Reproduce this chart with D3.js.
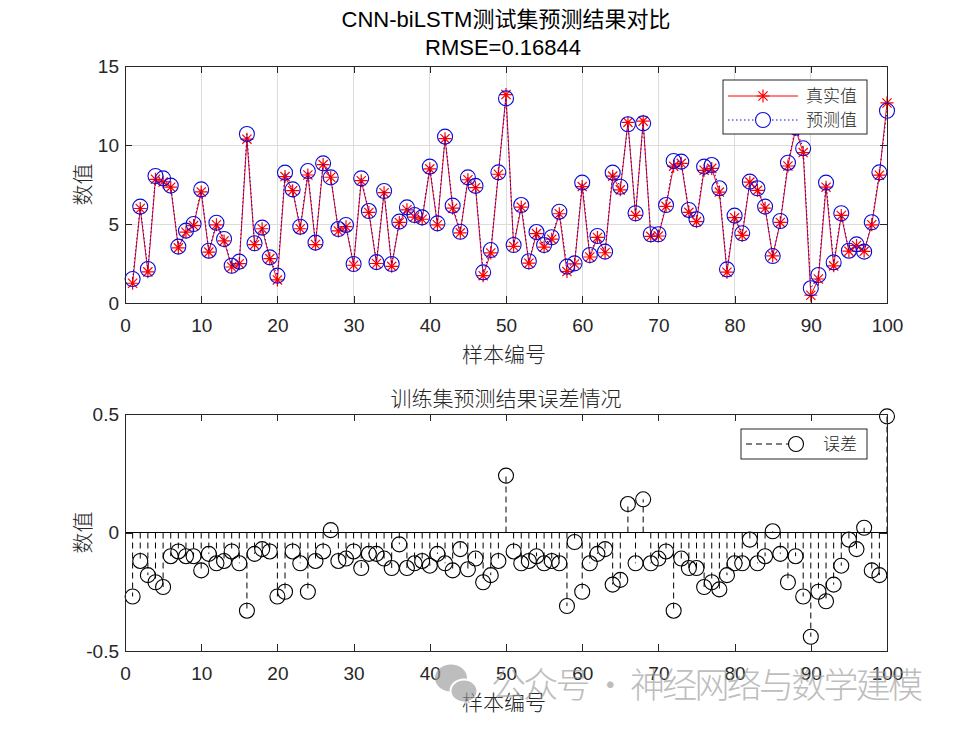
<!DOCTYPE html>
<html lang="zh">

<head>
    <meta charset="UTF-8">
    <title>CNN-biLSTM测试集预测结果对比</title>
    <style>
        body {
            margin: 0;
            background: #fff;
        }

        svg {
            display: block;
        }

        .axis text {
            font: 19px "Liberation Sans", Arial, sans-serif;
            fill: #262626;
        }

        .axis path,
        .axis line {
            fill: none;
            stroke: #262626;
            stroke-width: 1;
            shape-rendering: crispEdges;
        }

        .grid line {
            stroke: #dcdcdc;
            shape-rendering: crispEdges;
        }

        .cjk {
            font-family: "Noto Sans CJK SC", sans-serif;
            font-weight: 300;
            fill: #262626;
        }
    </style>
</head>

<body>
    <svg width="980" height="735"></svg>

    <script src="https://d3js.org/d3.v7.min.js"></script>
    <script>
        // sample numbers 1..100
        const samples = d3.range(1, 101);

        // true values (red stars)
        const actual = [
            1.25, 5.98, 1.97, 7.83, 7.66, 7.33, 3.49, 4.48, 4.90, 7.03,
            3.22, 4.95, 3.93, 2.28, 2.49, 10.37, 3.69, 4.70, 2.81, 1.46,
            8.00, 7.11, 4.70, 8.10, 3.70, 8.76, 7.96, 4.56, 4.83, 2.39,
            7.74, 5.73, 2.50, 6.98, 2.32, 5.10, 5.90, 5.44, 5.30, 8.49,
            4.95, 10.40, 6.00, 4.44, 7.80, 7.30, 1.73, 3.17, 8.15, 13.19,
            3.59, 6.07, 2.52, 4.39, 3.54, 4.04, 5.65, 1.99, 2.47, 7.37,
            2.91, 4.15, 3.18, 8.03, 7.16, 11.43, 5.55, 11.51, 4.22, 4.24,
            6.12, 8.66, 8.84, 5.74, 5.15, 8.40, 8.52, 7.02, 1.95, 5.40,
            4.28, 7.65, 7.13, 6.00, 2.98, 5.10, 8.67, 11.00, 9.52, 0.49,
            1.52, 7.33, 2.35, 5.54, 3.28, 3.64, 3.27, 4.95, 8.09, 12.66
        ];

        // predicted values (blue circles)
        const predicted = [
            1.52, 6.10, 2.15, 8.04, 7.89, 7.43, 3.57, 4.58, 5.00, 7.19,
            3.31, 5.08, 4.05, 2.36, 2.62, 10.70, 3.78, 4.77, 2.89, 1.73,
            8.25, 7.19, 4.83, 8.35, 3.82, 8.84, 7.95, 4.68, 4.94, 2.47,
            7.89, 5.82, 2.59, 7.09, 2.47, 5.15, 6.05, 5.57, 5.42, 8.63,
            5.04, 10.53, 6.16, 4.51, 7.95, 7.41, 1.94, 3.35, 8.27, 12.95,
            3.67, 6.20, 2.64, 4.49, 3.67, 4.16, 5.78, 2.30, 2.51, 7.62,
            3.04, 4.24, 3.25, 8.25, 7.36, 11.31, 5.68, 11.37, 4.35, 4.35,
            6.20, 8.99, 8.95, 5.89, 5.30, 8.63, 8.73, 7.26, 2.13, 5.53,
            4.41, 7.68, 7.26, 6.10, 2.97, 5.19, 8.88, 11.10, 9.79, 0.93,
            1.77, 7.62, 2.57, 5.68, 3.31, 3.71, 3.25, 5.11, 8.27, 12.17
        ];

        // errors (bottom stem plot)
        const errors = [
            -0.27, -0.12, -0.18, -0.21, -0.23, -0.10, -0.08, -0.10, -0.10, -0.16,
            -0.09, -0.13, -0.12, -0.08, -0.13, -0.33, -0.09, -0.07, -0.08, -0.27,
            -0.25, -0.08, -0.13, -0.25, -0.12, -0.08, 0.01, -0.12, -0.11, -0.08,
            -0.15, -0.09, -0.09, -0.11, -0.15, -0.05, -0.15, -0.13, -0.12, -0.14,
            -0.09, -0.13, -0.16, -0.07, -0.155, -0.11, -0.21, -0.18, -0.12, 0.24,
            -0.08, -0.13, -0.12, -0.10, -0.13, -0.12, -0.13, -0.31, -0.04, -0.25,
            -0.13, -0.09, -0.07, -0.22, -0.20, 0.12, -0.13, 0.14, -0.13, -0.11,
            -0.08, -0.33, -0.11, -0.15, -0.15, -0.23, -0.21, -0.24, -0.18, -0.13,
            -0.13, -0.03, -0.13, -0.10, 0.005, -0.09, -0.21, -0.10, -0.27, -0.44,
            -0.25, -0.29, -0.22, -0.14, -0.03, -0.07, 0.02, -0.16, -0.18, 0.49
        ];

        const xTicks = [0, 10, 20, 30, 40, 50, 60, 70, 80, 90, 100];
        const yTopTicks = [0, 5, 10, 15];
        const yBotTicks = [-0.5, 0, 0.5];

        const svg = d3.select("svg");

        const x = d3.scaleLinear().domain([0, 100]).range([125, 887]);
        const yTop = d3.scaleLinear().domain([0, 15]).range([303, 66]);
        const yBot = d3.scaleLinear().domain([-0.5, 0.5]).range([651, 414]);

        const starPath = "M-6.5,0H6.5M0,-6.5V6.5M-4.6,-4.6L4.6,4.6M-4.6,4.6L4.6,-4.6";

        // draws the box with inward ticks on all four sides
        function drawFrame(y, yTicks, yFormat) {
            const [y0, y1] = y.range();
            svg.append("g")
                .attr("class", "axis")
                .attr("transform", `translate(0,${y0})`)
                .call(d3.axisBottom(x).tickValues(xTicks).tickSize(-7).tickSizeOuter(0).tickPadding(16));
            svg.append("g")
                .attr("class", "axis")
                .attr("transform", `translate(0,${y1})`)
                .call(d3.axisTop(x).tickValues(xTicks).tickSize(-7).tickSizeOuter(0).tickFormat(""));
            svg.append("g")
                .attr("class", "axis")
                .attr("transform", `translate(${x.range()[0]},0)`)
                .call(d3.axisLeft(y).tickValues(yTicks).tickSize(-7).tickSizeOuter(0).tickPadding(6).tickFormat(yFormat));
            svg.append("g")
                .attr("class", "axis")
                .attr("transform", `translate(${x.range()[1]},0)`)
                .call(d3.axisRight(y).tickValues(yTicks).tickSize(-7).tickSizeOuter(0).tickFormat(""));
        }

        // ---------- top chart ----------
        const grid = svg.append("g").attr("class", "grid");
        grid.selectAll(".gx")
            .data(xTicks.slice(1, -1))
            .enter().append("line")
            .attr("x1", d => x(d)).attr("x2", d => x(d))
            .attr("y1", yTop(0)).attr("y2", yTop(15));
        grid.selectAll(".gy")
            .data(yTopTicks.slice(1, -1))
            .enter().append("line")
            .attr("x1", x(0)).attr("x2", x(100))
            .attr("y1", d => yTop(d)).attr("y2", d => yTop(d));

        const line = d3.line().x((d, i) => x(samples[i]));

        svg.append("path")
            .datum(actual)
            .attr("fill", "none")
            .attr("stroke", "#ff0000")
            .attr("stroke-width", 1)
            .attr("d", line.y(d => yTop(d)));

        svg.selectAll(".star")
            .data(actual)
            .enter().append("path")
            .attr("class", "star")
            .attr("transform", (d, i) => `translate(${x(samples[i])},${yTop(d)})`)
            .attr("d", starPath)
            .attr("stroke", "#ff0000")
            .attr("stroke-width", 1.2)
            .attr("fill", "none");

        svg.append("path")
            .datum(predicted)
            .attr("fill", "none")
            .attr("stroke", "#0a0ad8")
            .attr("stroke-width", 1)
            .attr("stroke-dasharray", "1.5,2.5")
            .attr("d", line.y(d => yTop(d)));

        svg.selectAll(".pred")
            .data(predicted)
            .enter().append("circle")
            .attr("class", "pred")
            .attr("cx", (d, i) => x(samples[i]))
            .attr("cy", d => yTop(d))
            .attr("r", 7.5)
            .attr("fill", "none")
            .attr("stroke", "#0a0ad8")
            .attr("stroke-width", 1.1);

        drawFrame(yTop, yTopTicks, d3.format("d"));

        // top legend
        const leg1 = svg.append("g");
        leg1.append("rect")
            .attr("x", 723).attr("y", 80).attr("width", 144).attr("height", 54)
            .attr("fill", "#fff").attr("stroke", "#262626").attr("stroke-width", 1);
        leg1.append("line")
            .attr("x1", 728).attr("x2", 798).attr("y1", 96).attr("y2", 96)
            .attr("stroke", "#ff0000");
        leg1.append("path")
            .attr("transform", "translate(763,96)")
            .attr("d", starPath)
            .attr("stroke", "#ff0000").attr("stroke-width", 1.2);
        leg1.append("line")
            .attr("x1", 728).attr("x2", 798).attr("y1", 120).attr("y2", 120)
            .attr("stroke", "#0a0ad8").attr("stroke-dasharray", "1.5,2.5");
        leg1.append("circle")
            .attr("cx", 763).attr("cy", 120).attr("r", 7.5)
            .attr("fill", "#fff").attr("stroke", "#0a0ad8").attr("stroke-width", 1.1);
        leg1.selectAll("text")
            .data(["真实值", "预测值"])
            .enter().append("text")
            .attr("class", "cjk")
            .attr("x", 806)
            .attr("y", (d, i) => 96 + i * 24)
            .attr("dy", "0.36em")
            .style("font-size", "17px")
            .text(d => d);

        // titles
        svg.append("text")
            .attr("x", 506).attr("y", 27)
            .attr("text-anchor", "middle")
            .style("font", "22px 'Liberation Sans', 'Noto Sans CJK SC', sans-serif")
            .attr("fill", "#000")
            .text("CNN-biLSTM测试集预测结果对比");
        svg.append("text")
            .attr("x", 503).attr("y", 55)
            .attr("text-anchor", "middle")
            .style("font", "22px 'Liberation Sans', sans-serif")
            .attr("fill", "#000")
            .text("RMSE=0.16844");

        // ---------- bottom chart ----------
        svg.append("line")
            .attr("x1", x(0)).attr("x2", x(100))
            .attr("y1", yBot(0)).attr("y2", yBot(0))
            .attr("stroke", "#000").attr("stroke-width", 1)
            .style("shape-rendering", "crispEdges");

        svg.selectAll(".stem")
            .data(errors)
            .enter().append("line")
            .attr("class", "stem")
            .attr("x1", (d, i) => x(samples[i]))
            .attr("x2", (d, i) => x(samples[i]))
            .attr("y1", yBot(0))
            .attr("y2", d => yBot(d))
            .attr("stroke", "#000")
            .attr("stroke-width", 1)
            .attr("stroke-dasharray", "6,4");

        svg.selectAll(".err")
            .data(errors)
            .enter().append("circle")
            .attr("class", "err")
            .attr("cx", (d, i) => x(samples[i]))
            .attr("cy", d => yBot(d))
            .attr("r", 7.5)
            .attr("fill", "none")
            .attr("stroke", "#000")
            .attr("stroke-width", 1.1);

        drawFrame(yBot, yBotTicks, d => d === 0 ? "0" : d3.format(".1f")(d).replace("−", "-"));

        // bottom legend
        const leg2 = svg.append("g");
        leg2.append("rect")
            .attr("x", 741).attr("y", 429).attr("width", 126).attr("height", 30)
            .attr("fill", "#fff").attr("stroke", "#262626").attr("stroke-width", 1);
        leg2.append("line")
            .attr("x1", 746).attr("x2", 796).attr("y1", 444).attr("y2", 444)
            .attr("stroke", "#000").attr("stroke-dasharray", "6,4");
        leg2.append("circle")
            .attr("cx", 796).attr("cy", 444).attr("r", 7.5)
            .attr("fill", "#fff").attr("stroke", "#000").attr("stroke-width", 1.1);
        leg2.append("text")
            .attr("class", "cjk")
            .attr("x", 823).attr("y", 444).attr("dy", "0.36em")
            .style("font-size", "17px")
            .text("误差");

        svg.append("text")
            .attr("class", "cjk")
            .attr("x", 506).attr("y", 406)
            .attr("text-anchor", "middle")
            .style("font-size", "21px")
            .text("训练集预测结果误差情况");

        // axis labels
        [303, 651].forEach(function (yb) {
            svg.append("text")
                .attr("class", "cjk")
                .attr("x", 504).attr("y", yb + 59)
                .attr("text-anchor", "middle")
                .style("font-size", "21px")
                .text("样本编号");
        });
        [184.5, 532.5].forEach(function (yc) {
            svg.append("text")
                .attr("class", "cjk")
                .attr("transform", `translate(82,${yc}) rotate(-90)`)
                .attr("text-anchor", "middle")
                .attr("dy", "0.36em")
                .style("font-size", "21px")
                .text("数值");
        });

        // watermark
        const wm = svg.append("g").attr("opacity", 0.65);
        wm.append("ellipse")
            .attr("cx", 451).attr("cy", 678).attr("rx", 16).attr("ry", 13.5)
            .attr("fill", "#9a9a9a");
        wm.append("ellipse")
            .attr("cx", 464).attr("cy", 691).attr("rx", 13.5).attr("ry", 11.5)
            .attr("fill", "#9a9a9a").attr("stroke", "#fff").attr("stroke-width", 2);
        wm.append("text")
            .attr("x", 491).attr("y", 698)
            .attr("textLength", 432)
            .attr("lengthAdjust", "spacing")
            .style("font", "300 35px 'Noto Sans CJK SC', sans-serif")
            .attr("fill", "#9a9a9a")
            .text("公众号 · 神经网络与数学建模");
    </script>
</body>

</html>
